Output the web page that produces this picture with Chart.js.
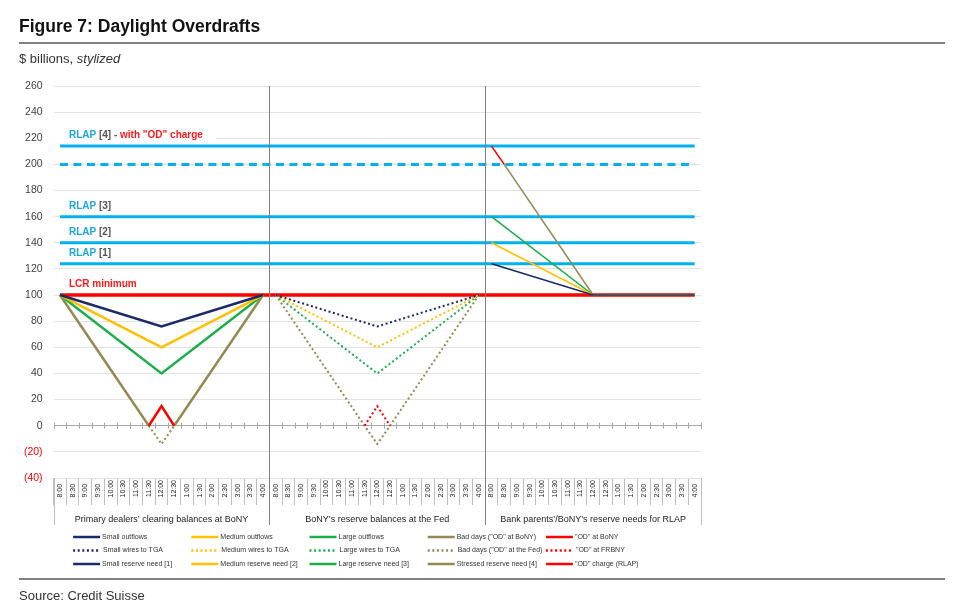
<!DOCTYPE html>
<html>
<head>
<meta charset="utf-8">
<script src="https://cdn.jsdelivr.net/npm/chart.js@4.4.1/dist/chart.umd.min.js"></script>
<style>
  body { margin: 0; background: #fff; font-family: Arial, 'Liberation Sans', sans-serif; }
  #page { position: relative; width: 960px; height: 613px; overflow: hidden; }
  #chart { position: absolute; left: 0; top: 0; }
  .txt { position: absolute; left: 19px; white-space: nowrap; z-index: 2; }
  .title { top: 18px; font-size: 17.5px; line-height: 17.5px; font-weight: bold; color: #111; }
  .sub { top: 51.6px; font-size: 13px; line-height: 13px; color: #333; }
  .source { top: 589px; font-size: 13px; line-height: 13px; color: #333; }
  .rule { position: absolute; left: 19px; width: 926px; height: 2px; background: #808080; }
</style>
</head>
<body>
<div id="page">
  <canvas id="chart" width="960" height="613"></canvas>
  <div class="txt title">Figure 7: Daylight Overdrafts</div>
  <div class="rule" style="top:42px"></div>
  <div class="txt sub">$ billions, <i>stylized</i></div>
  <div class="rule" style="top:578px"></div>
  <div class="txt source">Source: Credit Suisse</div>
</div>
<script>
const N = null;
const PANEL = 17;

const times = ['8:00', '8:30', '9:00', '9:30', '10:00', '10:30', '11:00', '11:30', '12:00',
  '12:30', '1:00', '1:30', '2:00', '2:30', '3:00', '3:30', '4:00'];
const panelTitles = [
  'Primary dealers’ clearing balances at BoNY',
  'BoNY’s reserve balances at the Fed',
  'Bank parents’/BoNY’s reserve needs for RLAP'
];
const categories = [...times, ...times, ...times];

// panel 1 - clearing balances at BoNY
const smallOutflows  = [100, N, N, N, N, N, N, N, 76, N, N, N, N, N, N, N, 100];
const mediumOutflows = [100, N, N, N, N, N, N, N, 60, N, N, N, N, N, N, N, 100];
const largeOutflows  = [100, N, N, N, N, N, N, N, 40, N, N, N, N, N, N, N, 100];
const badDaysBony    = [100, N, N, N, N, N, N, 0, -14, 0, N, N, N, N, N, N, 100];
const odBony         = [N, N, N, N, N, N, N, 0, 15, 0, N, N, N, N, N, N, N];

// panel 2 - reserve balances at the Fed
const smallWires  = [100, N, N, N, N, N, N, N, 76, N, N, N, N, N, N, N, 100];
const mediumWires = [100, N, N, N, N, N, N, N, 60, N, N, N, N, N, N, N, 100];
const largeWires  = [100, N, N, N, N, N, N, N, 40, N, N, N, N, N, N, N, 100];
const badDaysFed  = [100, N, N, N, N, N, N, 0, -14, 0, N, N, N, N, N, N, 100];
const odFrbny     = [N, N, N, N, N, N, N, 0, 15, 0, N, N, N, N, N, N, N];

// panel 3 - reserve needs for RLAP
const smallReserve    = [124, N, N, N, N, N, N, N, 100, N, N, N, N, N, N, N, 100];
const mediumReserve   = [140, N, N, N, N, N, N, N, 100, N, N, N, N, N, N, N, 100];
const largeReserve    = [160, N, N, N, N, N, N, N, 100, N, N, N, N, N, N, N, 100];
const stressedReserve = [N, 200, N, N, N, N, N, N, 100, N, N, N, N, N, N, N, 100];
const odChargeRlap    = [214, 200, N, N, N, N, N, N, N, N, N, N, N, N, N, N, N];

// reference levels
const lcrMinimum = 100;
const rlapLevels = [124, 140, 160, 214];   // RLAP [1]..[4]
const rlapNoCharge = 200;

const navy = '#1b2a69', gold = '#ffc000', green = '#1daf4c', olive = '#948a54',
  red = '#ff0000', sky = '#00b0f0';
const DOT = [2, 2.6];

function inPanel(p, values) {
  const out = new Array(categories.length).fill(null);
  values.forEach((v, i) => { out[p * PANEL + i] = v; });
  return out;
}
function acrossAll(v) {
  const out = new Array(categories.length).fill(null);
  out[0] = v;
  out[out.length - 1] = v;
  return out;
}

function solid(label, data, color, width) {
  return { label, data, borderColor: color, backgroundColor: color, borderWidth: width, order: 5 };
}
function dotted(label, data, color) {
  return { label, data, borderColor: color, backgroundColor: color, borderWidth: 2, borderDash: DOT, order: 5 };
}

const datasets = [
  solid('Small outflows', inPanel(0, smallOutflows), navy, 2.5),
  solid('Medium outflows', inPanel(0, mediumOutflows), gold, 2.5),
  solid('Large outflows', inPanel(0, largeOutflows), green, 2.5),
  Object.assign(solid('Bad days ("OD" at BoNY)', inPanel(0, badDaysBony), olive, 2.5), {
    segment: {
      borderDash: c => (c.p0.parsed.y < 0 || c.p1.parsed.y < 0) ? DOT : undefined,
      borderWidth: c => (c.p0.parsed.y < 0 || c.p1.parsed.y < 0) ? 2 : undefined
    }
  }),
  Object.assign(solid('"OD" at BoNY', inPanel(0, odBony), red, 2.5), { order: 1 }),

  dotted('Small wires to TGA', inPanel(1, smallWires), navy),
  dotted('Medium wires to TGA', inPanel(1, mediumWires), gold),
  dotted('Large wires to TGA', inPanel(1, largeWires), green),
  dotted('Bad days ("OD" at the Fed)', inPanel(1, badDaysFed), olive),
  Object.assign(dotted('"OD" at FRBNY', inPanel(1, odFrbny), red), { order: 1 }),

  solid('Small reserve need [1]', inPanel(2, smallReserve), navy, 1.6),
  solid('Medium reserve need [2]', inPanel(2, mediumReserve), gold, 1.6),
  solid('Large reserve need [3]', inPanel(2, largeReserve), green, 1.6),
  solid('Stressed reserve need [4]', inPanel(2, stressedReserve), olive, 1.6),
  Object.assign(solid('"OD" charge (RLAP)', inPanel(2, odChargeRlap), red, 1.6), { order: 1 }),

  // reference lines, not in the legend
  { label: 'LCR minimum', data: acrossAll(lcrMinimum), borderColor: red, borderWidth: 3.5, order: 10, noLegend: true },
  ...rlapLevels.map((v, i) => ({ label: 'RLAP [' + (i + 1) + ']', data: acrossAll(v), borderColor: sky, borderWidth: 3, order: 10, noLegend: true })),
  { label: 'RLAP no charge', data: acrossAll(rlapNoCharge), borderColor: sky, borderWidth: 3, borderDash: [8, 5.5], order: 10, noLegend: true }
];

const lineLabels = [
  { level: rlapLevels[3], parts: [['RLAP', '#1aa7e2'], [' [4]', '#555'], [' - ', '#555'], ['with "OD" charge', '#ff1a1a']] },
  { level: rlapLevels[2], parts: [['RLAP', '#1aa7e2'], [' [3]', '#555']] },
  { level: rlapLevels[1], parts: [['RLAP', '#1aa7e2'], [' [2]', '#555']] },
  { level: rlapLevels[0], parts: [['RLAP', '#1aa7e2'], [' [1]', '#555']] },
  { level: lcrMinimum, parts: [['LCR minimum', '#ff1a1a']] }
];

const decorations = {
  id: 'decorations',
  beforeDatasetsDraw(chart) {
    const { ctx, chartArea: a, scales: { x, y } } = chart;
    ctx.save();
    // ticks on the zero axis
    const y0 = y.getPixelForValue(0);
    ctx.strokeStyle = '#a6a6a6';
    ctx.lineWidth = 1;
    for (let i = 0; i <= categories.length; i++) {
      const px = Math.round(a.left + (a.right - a.left) * i / categories.length) + 0.5;
      ctx.beginPath();
      ctx.moveTo(px, y0 - 3);
      ctx.lineTo(px, y0 + 3);
      ctx.stroke();
    }
    // labels over the reference lines
    ctx.font = 'bold 10px Arial, "Liberation Sans", sans-serif';
    ctx.textBaseline = 'middle';
    lineLabels.forEach(l => {
      const ly = y.getPixelForValue(l.level) - 10.5;
      const lx = x.getPixelForValue(0) + 9;
      const w = l.parts.reduce((s, p) => s + ctx.measureText(p[0]).width, 0);
      ctx.fillStyle = '#fff';
      ctx.fillRect(a.left + 1, ly - 6, lx - a.left + w + 12, 12);
      let cx = lx;
      l.parts.forEach(p => {
        ctx.fillStyle = p[1];
        ctx.fillText(p[0], cx, ly);
        cx += ctx.measureText(p[0]).width;
      });
    });
    ctx.restore();
  },
  afterDatasetsDraw(chart) {
    const { ctx, chartArea: a, scales: { x } } = chart;
    const bottom = a.bottom + 47;
    ctx.save();
    ctx.strokeStyle = '#808080';
    ctx.lineWidth = 1;
    for (let p = 1; p < panelTitles.length; p++) {
      const px = (x.getPixelForValue(p * PANEL - 1) + x.getPixelForValue(p * PANEL)) / 2;
      ctx.beginPath();
      ctx.moveTo(Math.round(px) + 0.5, a.top);
      ctx.lineTo(Math.round(px) + 0.5, bottom);
      ctx.stroke();
    }
    ctx.strokeStyle = '#bfbfbf';
    [a.left, a.right].forEach(px => {
      ctx.beginPath();
      ctx.moveTo(Math.round(px) + 0.5, a.bottom);
      ctx.lineTo(Math.round(px) + 0.5, bottom);
      ctx.stroke();
    });
    // panel titles
    ctx.fillStyle = '#222';
    ctx.font = '9px Arial, "Liberation Sans", sans-serif';
    ctx.textAlign = 'center';
    ctx.textBaseline = 'middle';
    const half = (x.getPixelForValue(1) - x.getPixelForValue(0)) / 2;
    panelTitles.forEach((t, p) => {
      const l = x.getPixelForValue(p * PANEL) - half;
      const r = x.getPixelForValue(p * PANEL + PANEL - 1) + half;
      ctx.fillText(t, (l + r) / 2, a.bottom + 41.5);
    });
    ctx.restore();
  },
  afterDraw(chart) {
    // legend laid out as a 5 x 3 grid
    const { ctx, chartArea: a } = chart;
    const items = chart.data.datasets.filter(d => !d.noLegend);
    ctx.save();
    ctx.font = '7px Arial, "Liberation Sans", sans-serif';
    ctx.textBaseline = 'middle';
    ctx.textAlign = 'left';
    items.forEach((d, i) => {
      const lx = a.left + 19.5 + (i % 5) * 118.2;
      const ly = a.bottom + 59 + Math.floor(i / 5) * 13.5;
      ctx.strokeStyle = d.borderColor;
      ctx.lineWidth = 2.5;
      ctx.setLineDash(d.borderDash ? DOT : []);
      ctx.beginPath();
      ctx.moveTo(lx, ly);
      ctx.lineTo(lx + 27, ly);
      ctx.stroke();
      ctx.fillStyle = '#333';
      ctx.fillText(d.label, lx + (d.borderDash ? 30 : 29), ly);
    });
    ctx.restore();
  }
};

new Chart(document.getElementById('chart'), {
  type: 'line',
  data: { labels: categories, datasets },
  options: {
    responsive: false,
    animation: false,
    spanGaps: true,
    elements: { point: { radius: 0, hoverRadius: 0 }, line: { tension: 0 } },
    layout: { padding: { left: 13.6, right: 259, top: 86, bottom: 105 } },
    plugins: { legend: { display: false }, tooltip: { enabled: false } },
    scales: {
      x: {
        offset: true,
        grid: { offset: true, drawOnChartArea: false, drawTicks: true, tickLength: 27, tickColor: '#bfbfbf' },
        border: { display: false },
        ticks: {
          autoSkip: false, minRotation: 90, maxRotation: 90, padding: -25,
          color: '#1a1a1a', font: { size: 7, family: 'Arial, "Liberation Sans", sans-serif' },
          callback: function (v) {
            const s = this.getLabelForValue(v);
            return s.length < 5 ? s + '\u2007' : s;
          }
        },
        afterFit: s => { s.height = 30; }
      },
      y: {
        min: -40, max: 260,
        grid: { drawTicks: false, color: c => c.tick.value === 0 ? '#a6a6a6' : '#e2e2e2' },
        border: { display: false },
        ticks: {
          stepSize: 20, padding: 11,
          color: c => c.tick.value < 0 ? '#ff0000' : '#404040',
          font: { size: 10.5, family: 'Arial, "Liberation Sans", sans-serif' },
          callback: v => v < 0 ? '(' + Math.abs(v) + ')' : v
        },
        afterFit: s => { s.width = 40; }
      }
    }
  },
  plugins: [decorations]
});
</script>
</body>
</html>
